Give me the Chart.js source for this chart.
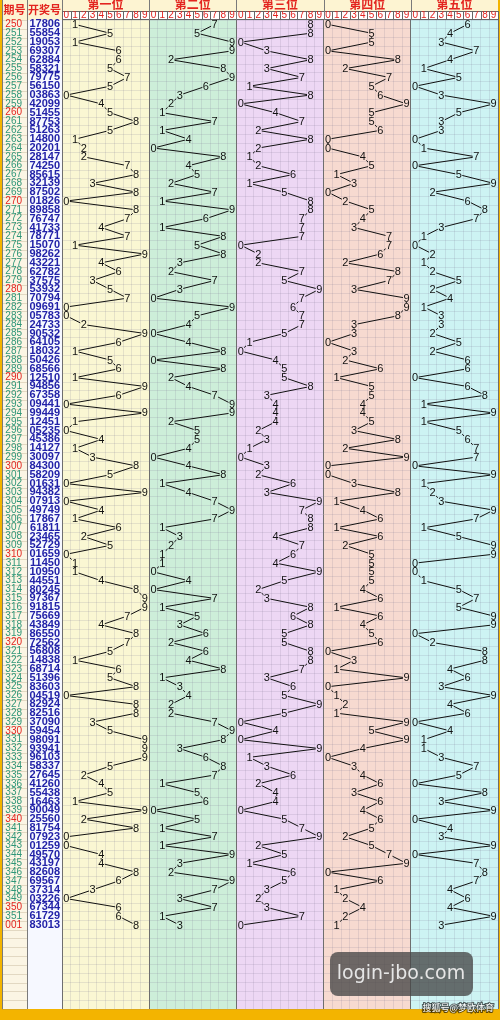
<!DOCTYPE html>
<html>
<head>
<meta charset="utf-8">
<script src="https://cdn.jsdelivr.net/npm/chart.js@4.4.1/dist/chart.umd.min.js"></script>
<style>
  html, body { margin: 0; padding: 0; background: #f3b400; }
  canvas { display: block; }
</style>
</head>
<body>
<canvas id="trendChart" width="500" height="1020"></canvas>
<script>
// issue numbers and draw results
const issues = ['250','251','252','253','254','255','256','257','258','259',
  '260','261','262','263','264','265','266','267','268','269',
  '270','271','272','273','274','275','276','277','278','279',
  '280','281','282','283','284','285','286','287','288','289',
  '290','291','292','293','294','295','296','297','298','299',
  '300','301','302','303','304','305','306','307','308','309',
  '310','311','312','313','314','315','316','317','318','319',
  '320','321','322','323','324','325','326','327','328','329',
  '330','331','332','333','334','335','336','337','338','339',
  '340','341','342','343','344','345','346','347','348','349',
  '350','351','001'];
const draws = ['17806','55854','19053','69307','62884','58321','79775','56150','03863','42099',
  '51455','87753','51263','14800','20201','28147','74250','85615','32139','87502',
  '01826','89858','76747','41733','78771','15070','98262','43221','62782','37575',
  '53932','70794','09691','05783','24733','90532','64105','18032','50426','68566',
  '12510','94856','67358','09441','99449','12451','05235','45386','14127','30097',
  '84300','58209','01631','94382','07913','49749','17867','61811','23465','52729',
  '01659','11450','10950','44551','80245','97367','91815','75669','43849','86550',
  '72562','56808','14838','68714','51396','83603','04519','82924','82516','37090',
  '59454','98091','93941','96103','58337','27645','41260','55438','16463','90049',
  '25560','81754','07923','01259','49570','43197','82608','69567','37314','03226',
  '67344','61729','83013'];
const zoneNames = ['第一位','第二位','第三位','第四位','第五位'];
const digitLabels = ['0','1','2','3','4','5','6','7','8','9'];

const zoneColors = ['#faf7d3','#cdeed9','#edd7f4','#f7dad0','#cdf3f3'];
const TOTAL_ROWS = 112;
const RED = '#e3241f';

// one line per digit position
const datasets = zoneNames.map((name, z) => ({
  label: name,
  data: draws.map((d, i) => ({ x: z * 10 + Number(d[z]) + 0.5, y: i })),
  borderColor: '#111',
  borderWidth: 1,
  pointRadius: 0,
  tension: 0,
  fill: false
}));

const range = (n, f) => Array.from({ length: n }, (_, i) => f(i));

const sheetPlugin = {
  id: 'sheet',
  beforeDraw(chart) {
    const ctx = chart.ctx;
    const { top, bottom } = chart.chartArea;
    const x = chart.scales.x, y = chart.scales.y;
    const yi = chart.scales.yIssue, yd = chart.scales.yDraw, xd = chart.scales.xd;
    ctx.save();
    ctx.fillStyle = '#f3b400';
    ctx.fillRect(0, 0, chart.width, chart.height);
    ctx.fillStyle = '#fdf4d2';
    ctx.fillRect(yi.left, 0, x.right - yi.left, top);
    // label columns
    ctx.fillStyle = '#fbf5e4';
    ctx.fillRect(yi.left, top, yi.width, bottom - top);
    ctx.fillStyle = '#f6f8ff';
    ctx.fillRect(yd.left, top, yd.width, bottom - top);
    // zones
    zoneNames.forEach((n, z) => {
      const x0 = x.getPixelForValue(z * 10), x1 = x.getPixelForValue(z * 10 + 10);
      ctx.fillStyle = zoneColors[z];
      ctx.fillRect(x0, top, x1 - x0, bottom - top);
    });
    // row lines in label columns
    ctx.strokeStyle = 'rgba(150,130,90,0.25)';
    ctx.lineWidth = 1;
    for (let i = 0; i <= TOTAL_ROWS; i++) {
      const yy = Math.round(y.getPixelForValue(i - 0.5)) + 0.5;
      ctx.beginPath();
      ctx.moveTo(yi.left, yy); ctx.lineTo(yi.right, yy);
      ctx.stroke();
    }
    ctx.strokeStyle = '#7a7a7a';
    [yi.left, yi.right, yd.right].forEach(px => {
      const xx = Math.round(px) + 0.5;
      ctx.beginPath(); ctx.moveTo(xx, 0); ctx.lineTo(xx, bottom); ctx.stroke();
    });
    // digit header boxes
    ctx.strokeStyle = '#666';
    for (let c = 0; c < 50; c++) {
      const x0 = Math.round(x.getPixelForValue(c)) + 0.5;
      const x1 = Math.round(x.getPixelForValue(c + 1)) + 0.5;
      ctx.fillStyle = '#fff';
      ctx.fillRect(x0, xd.top + 0.5, x1 - x0, xd.bottom - xd.top - 1);
      ctx.strokeRect(x0, xd.top + 0.5, x1 - x0, xd.bottom - xd.top - 1);
    }
    ctx.strokeStyle = '#7a7a7a';
    for (let z = 1; z < 5; z++) {
      const xx = Math.round(x.getPixelForValue(z * 10)) + 0.5;
      ctx.beginPath(); ctx.moveTo(xx, 0); ctx.lineTo(xx, top); ctx.stroke();
    }
    // left headers
    ctx.fillStyle = RED;
    ctx.font = 'bold 11px "Noto Sans CJK SC"';
    ctx.textAlign = 'center';
    ctx.textBaseline = 'middle';
    ctx.fillText('期号', (yi.left + yi.right) / 2, top / 2);
    ctx.fillText('开奖号', (yd.left + yd.right) / 2, top / 2);
    ctx.restore();
  },
  afterDatasetsDraw(chart) {
    const ctx = chart.ctx;
    ctx.save();
    ctx.font = '11px "Liberation Sans"';
    ctx.textAlign = 'center';
    ctx.textBaseline = 'middle';
    chart.data.datasets.forEach((ds, z) => {
      chart.getDatasetMeta(z).data.forEach((pt, i) => {
        ctx.fillStyle = zoneColors[z];
        ctx.fillRect(pt.x - 3.5, pt.y - 4, 7, 8);
        ctx.fillStyle = '#111';
        ctx.fillText(draws[i][z], pt.x, pt.y + 0.5);
      });
    });
    ctx.restore();
  },
  afterDraw(chart) {
    const ctx = chart.ctx;
    ctx.save();
    // site watermark
    ctx.fillStyle = 'rgba(70,70,70,0.78)';
    ctx.beginPath();
    ctx.roundRect(330, 952, 143, 44, 8);
    ctx.fill();
    ctx.fillStyle = '#e6e6e6';
    ctx.font = '19px "DejaVu Sans"';
    ctx.textAlign = 'center';
    ctx.textBaseline = 'middle';
    ctx.fillText('login-jbo.com', 401, 974);
    ctx.font = '9px "Noto Sans CJK SC"';
    ctx.textAlign = 'right';
    ctx.strokeStyle = 'rgba(0,0,0,0.6)';
    ctx.lineWidth = 2;
    ctx.strokeText('搜狐号@梦欧体育', 494, 1008);
    ctx.fillStyle = '#fff';
    ctx.fillText('搜狐号@梦欧体育', 494, 1008);
    ctx.restore();
  }
};

const rowAxis = (weight, width, labels, font, color, padding, align) => ({
  type: 'linear',
  position: 'left',
  weight: weight,
  min: -0.5,
  max: TOTAL_ROWS - 0.5,
  reverse: true,
  afterBuildTicks: s => { s.ticks = labels.map((_, i) => ({ value: i })); },
  afterFit: s => { s.width = width; },
  grid: { display: false, drawTicks: false },
  border: { display: false },
  ticks: {
    autoSkip: false,
    padding: padding,
    crossAlign: align,
    font: font,
    color: color,
    callback: v => labels[v]
  }
});

new Chart(document.getElementById('trendChart'), {
  type: 'line',
  data: { datasets: datasets },
  plugins: [sheetPlugin],
  options: {
    responsive: false,
    animation: false,
    devicePixelRatio: 1,
    layout: { padding: { left: 2, right: 2, top: 0, bottom: 9 } },
    plugins: { legend: { display: false }, tooltip: { enabled: false } },
    scales: {
      x: {
        type: 'linear', position: 'bottom', min: 0, max: 50,
        afterBuildTicks: s => { s.ticks = range(51, i => ({ value: i })); },
        afterFit: s => { s.height = 0; },
        ticks: { display: false },
        border: { display: false },
        grid: {
          drawTicks: false,
          color: c => c.tick.value % 10 === 0 ? '#6e6e6e' : 'rgba(120,110,140,0.16)'
        }
      },
      xd: {
        type: 'linear', position: 'top', weight: 1, min: 0, max: 50,
        afterBuildTicks: s => { s.ticks = range(50, i => ({ value: i + 0.5 })); },
        afterFit: s => { s.height = 9; },
        grid: { display: false, drawTicks: false },
        border: { display: false },
        ticks: {
          autoSkip: false, maxRotation: 0, minRotation: 0, padding: -1,
          font: { family: 'Liberation Sans', size: 10 }, color: RED,
          callback: v => digitLabels[Math.floor(v) % 10]
        }
      },
      xz: {
        type: 'linear', position: 'top', weight: 2, min: 0, max: 50,
        afterBuildTicks: s => { s.ticks = zoneNames.map((_, z) => ({ value: z * 10 + 5 })); },
        afterFit: s => { s.height = 11; },
        grid: { display: false, drawTicks: false },
        border: { display: false },
        ticks: {
          autoSkip: false, maxRotation: 0, padding: -1,
          font: { family: 'Noto Sans CJK SC', size: 12, weight: 'bold' }, color: RED,
          callback: v => zoneNames[Math.floor(v / 10)]
        }
      },
      y: {
        type: 'linear', position: 'right', min: -0.5, max: TOTAL_ROWS - 0.5, reverse: true,
        afterBuildTicks: s => { s.ticks = range(TOTAL_ROWS + 1, i => ({ value: i - 0.5 })); },
        afterFit: s => { s.width = 0; },
        ticks: { display: false },
        border: { display: false },
        grid: { drawTicks: false, color: 'rgba(120,110,140,0.16)' }
      },
      yDraw: rowAxis(1, 35, draws, { family: 'Liberation Sans', size: 11, weight: 'bold' },
        '#2222a8', 2, 'near'),
      yIssue: rowAxis(2, 25, issues, { family: 'Liberation Sans', size: 10 },
        c => (issues[c.index].endsWith('0') || issues[c.index] === '001') ? RED : '#2f9678', 5, 'center')
    }
  }
});
</script>
</body>
</html>
